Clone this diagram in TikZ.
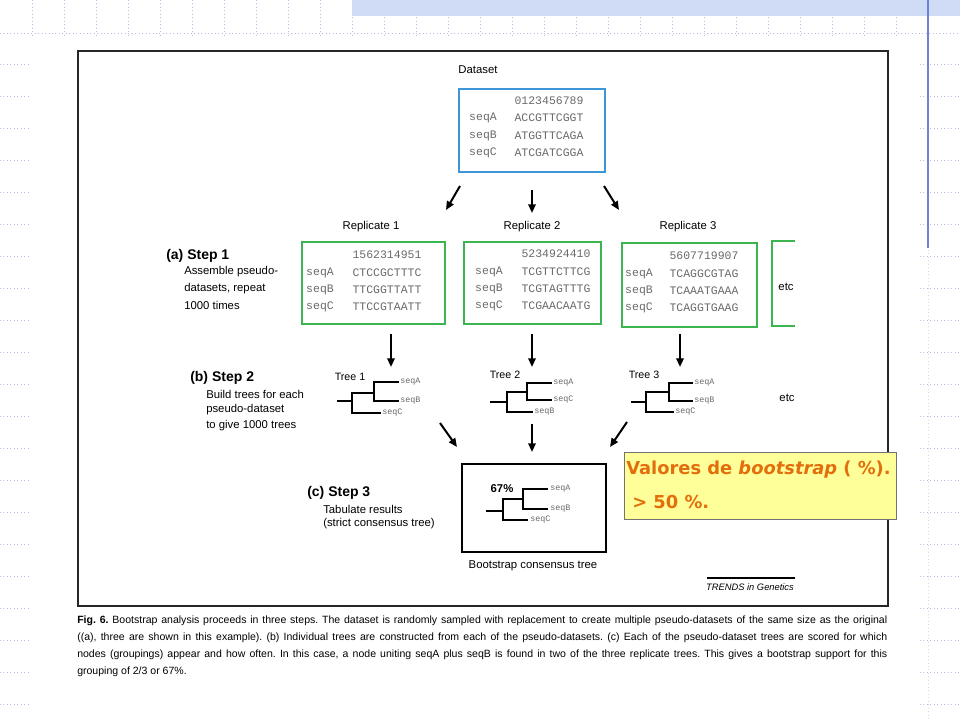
\documentclass[tikz,border=0pt]{standalone}
\usepackage{fontspec}
\setmainfont{Liberation Sans}
\newfontfamily\seqfont{Liberation Mono}
\newfontfamily\notefont{DejaVu Sans}
\usetikzlibrary{arrows.meta,calc}
\definecolor{dsblue}{RGB}{60,150,215}
\definecolor{repgreen}{RGB}{60,180,80}
\definecolor{seqgray}{RGB}{105,105,105}
\definecolor{noteyellow}{RGB}{255,255,153}
\definecolor{noteorange}{RGB}{226,110,12}
\definecolor{gridc}{RGB}{185,190,225}
\definecolor{bandc}{RGB}{208,220,245}
\definecolor{slideblue}{RGB}{110,130,220}
\begin{document}
\frenchspacing
\begin{tikzpicture}[x=0.75pt,y=-0.75pt,
  lbl/.style={inner sep=0, font=\fontsize{8.5}{10}\selectfont},
  steph/.style={inner sep=0, anchor=west, font=\fontsize{10.5}{12}\selectfont\bfseries},
  stept/.style={inner sep=0, anchor=west, font=\fontsize{8.5}{10}\selectfont},
  seqt/.style={inner sep=0, text=seqgray, font=\fontsize{8.6}{10}\seqfont},
  treel/.style={inner sep=0, anchor=west, text=seqgray, font=\fontsize{6.3}{7}\seqfont},
  pxbox/.style 2 args={inner sep=0, anchor=north west, minimum width=#1*0.75pt, minimum height=#2*0.75pt},
  arr/.style={line width=1.5pt, -{Triangle[length=6.5pt,width=5.5pt]}},
  tree/.style={line width=1.4pt, line cap=rect},
  grid/.style={gridc, dotted, line width=0.6pt},
  caption/.style={inner sep=0, anchor=base west, font=\fontsize{7.9}{9}\selectfont},
]
\useasboundingbox (0,0) rectangle (960,720);
% ---- slide decoration ----
\foreach \k in {1,...,28} \draw[grid] (32*\k,0) -- (32*\k,38);
\draw[grid] (0,33) -- (960,33);
\fill[bandc] (352,0) rectangle (960,16);
\foreach \k in {0,...,20} {
  \draw[grid] (0,64+32*\k) -- (30,64+32*\k);
  \draw[grid] (920,64+32*\k) -- (960,64+32*\k);
}
\draw[grid, gridc!60] (928,250) -- (928,720);
\draw[slideblue, line width=0.8pt] (928,0) -- (928,248);
% ---- frame ----
\node[pxbox={810}{555}, draw=black!85, line width=1.5pt] (frame) at (77,50) {};
% ---- dataset ----
\node[lbl] (dstitle) at (478,70) {Dataset};
\node[pxbox={146}{83}, draw=dsblue, line width=1.5pt] (dataset) at (458,88) {};
\node[seqt] (dsn) at (549,101) {0123456789};
\node[seqt] (dsa) at (483,118) {seqA};
\node[seqt] (dsas) at (549,118) {ACCGTTCGGT};
\node[seqt] (dsb) at (483,136) {seqB};
\node[seqt] (dsbs) at (549,136) {ATGGTTCAGA};
\node[seqt] (dsc) at (483,153) {seqC};
\node[seqt] (dscs) at (549,153) {ATCGATCGGA};
% ---- arrows dataset -> replicates ----
\coordinate (a1s) at (460,186); \coordinate (a1e) at (446,210);
\coordinate (a2s) at (532,190); \coordinate (a2e) at (532,213);
\coordinate (a3s) at (604,186); \coordinate (a3e) at (619,210);
\draw[arr] (a1s) -- (a1e);
\draw[arr] (a2s) -- (a2e);
\draw[arr] (a3s) -- (a3e);
% ---- replicate titles ----
\node[lbl] (r1t) at (371,227) {Replicate 1};
\node[lbl] (r2t) at (532,227) {Replicate 2};
\node[lbl] (r3t) at (688,227) {Replicate 3};
% ---- replicate boxes ----
\node[pxbox={143}{82}, draw=repgreen, line width=1.5pt] (rep1) at (301,241) {};
\node[pxbox={137}{82}, draw=repgreen, line width=1.5pt] (rep2) at (463,241) {};
\node[pxbox={135}{84}, draw=repgreen, line width=1.5pt] (rep3) at (621,242) {};
\coordinate (etc1) at (795,241); \coordinate (etc2) at (772,241);
\coordinate (etc3) at (772,326); \coordinate (etc4) at (795,326);
\draw[repgreen, line width=1.5pt] (etc1) -- (etc2) -- (etc3) -- (etc4);
\node[lbl] (etcA) at (786,287) {etc};
% rep1
\node[seqt] (r1n) at (387,255) {1562314951};
\node[seqt] (r1a) at (320,273) {seqA};
\node[seqt] (r1as) at (387,273) {CTCCGCTTTC};
\node[seqt] (r1b) at (320,290) {seqB};
\node[seqt] (r1bs) at (387,290) {TTCGGTTATT};
\node[seqt] (r1c) at (320,307) {seqC};
\node[seqt] (r1cs) at (387,307) {TTCCGTAATT};
% rep2
\node[seqt] (r2n) at (556,254) {5234924410};
\node[seqt] (r2a) at (489,272) {seqA};
\node[seqt] (r2as) at (556,272) {TCGTTCTTCG};
\node[seqt] (r2b) at (489,289) {seqB};
\node[seqt] (r2bs) at (556,289) {TCGTAGTTTG};
\node[seqt] (r2c) at (489,306) {seqC};
\node[seqt] (r2cs) at (556,306) {TCGAACAATG};
% rep3
\node[seqt] (r3n) at (704,256) {5607719907};
\node[seqt] (r3a) at (639,274) {seqA};
\node[seqt] (r3as) at (704,274) {TCAGGCGTAG};
\node[seqt] (r3b) at (639,291) {seqB};
\node[seqt] (r3bs) at (704,291) {TCAAATGAAA};
\node[seqt] (r3c) at (639,308) {seqC};
\node[seqt] (r3cs) at (704,308) {TCAGGTGAAG};
% ---- step 1 text ----
\node[steph] (s1h) at (166,256) {(a) Step 1};
\node[stept] (s1a) at (184,272) {Assemble pseudo-};
\node[stept] (s1b) at (184,289) {datasets, repeat};
\node[stept] (s1c) at (184,305) {1000 times};
% ---- arrows replicates -> trees ----
\coordinate (b1s) at (391,334); \coordinate (b1e) at (391,367);
\coordinate (b2s) at (532,334); \coordinate (b2e) at (532,367);
\coordinate (b3s) at (680,334); \coordinate (b3e) at (680,367);
\draw[arr] (b1s) -- (b1e);
\draw[arr] (b2s) -- (b2e);
\draw[arr] (b3s) -- (b3e);
% ---- step 2 text ----
\node[steph] (s2h) at (190,378) {(b) Step 2};
\node[stept] (s2a) at (206,394) {Build trees for each};
\node[stept] (s2b) at (206,410) {pseudo-dataset};
\node[stept] (s2c) at (206,426) {to give 1000 trees};
% ---- tree 1 ----
\node[lbl, font=\fontsize{8}{9}\selectfont] (t1t) at (350,377) {Tree 1};
\draw[tree] (338,401) -- (352,401);
\draw[tree] (352,393) -- (352,413);
\draw[tree] (352,393) -- (374,393);
\draw[tree] (374,382) -- (374,401);
\draw[tree] (374,382) -- (398,382);
\draw[tree] (374,401) -- (398,401);
\draw[tree] (352,413) -- (380,413);
\node[treel] (t1a) at (400,382) {seqA};
\node[treel] (t1b) at (400,401) {seqB};
\node[treel] (t1c) at (382,413) {seqC};
% ---- tree 2 ----
\node[lbl, font=\fontsize{8}{9}\selectfont] (t2t) at (505,375) {Tree 2};
\draw[tree] (491,402) -- (507,402);
\draw[tree] (507,392) -- (507,412);
\draw[tree] (507,392) -- (527,392);
\draw[tree] (527,383) -- (527,400);
\draw[tree] (527,383) -- (551,383);
\draw[tree] (527,400) -- (551,400);
\draw[tree] (507,412) -- (532,412);
\node[treel] (t2a) at (553,383) {seqA};
\node[treel] (t2c) at (553,400) {seqC};
\node[treel] (t2b) at (534,412) {seqB};
% ---- tree 3 ----
\node[lbl, font=\fontsize{8}{9}\selectfont] (t3t) at (644,375) {Tree 3};
\draw[tree] (632,402) -- (646,402);
\draw[tree] (646,392) -- (646,412);
\draw[tree] (646,392) -- (669,392);
\draw[tree] (669,383) -- (669,401);
\draw[tree] (669,383) -- (692,383);
\draw[tree] (669,401) -- (692,401);
\draw[tree] (646,412) -- (673,412);
\node[treel] (t3a) at (694,383) {seqA};
\node[treel] (t3b) at (694,401) {seqB};
\node[treel] (t3c) at (675,412) {seqC};
\node[lbl] (etcB) at (787,398) {etc};
% ---- arrows trees -> consensus ----
\coordinate (c1s) at (440,423); \coordinate (c1e) at (457,447);
\coordinate (c2s) at (532,424); \coordinate (c2e) at (532,452);
\coordinate (c3s) at (627,422); \coordinate (c3e) at (610,447);
\draw[arr] (c1s) -- (c1e);
\draw[arr] (c2s) -- (c2e);
\draw[arr] (c3s) -- (c3e);
% ---- step 3 ----
\node[steph] (s3h) at (307,493) {(c) Step 3};
\node[stept] (s3a) at (323,509) {Tabulate results};
\node[stept] (s3b) at (323,524) {(strict consensus tree)};
\node[pxbox={144}{88}, draw=black, line width=1.5pt] (cons) at (461,463) {};
\node[inner sep=0, font=\fontsize{8.5}{10}\selectfont\bfseries] (pct) at (502,489) {67\%};
\draw[tree] (487,511) -- (503,511);
\draw[tree] (503,499) -- (503,520);
\draw[tree] (503,499) -- (523,499);
\draw[tree] (523,489) -- (523,509);
\draw[tree] (523,489) -- (547,489);
\draw[tree] (523,509) -- (547,509);
\draw[tree] (503,520) -- (527,520);
\node[treel] (cta) at (550,489) {seqA};
\node[treel] (ctb) at (550,509) {seqB};
\node[treel] (ctc) at (530,520) {seqC};
\node[lbl] (constitle) at (533,566) {Bootstrap consensus tree};
% ---- TRENDS ----
\node[inner sep=0, font=\fontsize{7}{8}\selectfont\itshape] (trends) at (750,587) {TRENDS in Genetics};
\coordinate (trl) at (707,578); \coordinate (trr) at (795,578);
\draw[line width=0.9pt] (trl) -- (trr);
% ---- note ----
\node[pxbox={272}{67}, fill=noteyellow, draw=black!55, line width=0.6pt] (note) at (624,452) {};
\node[inner sep=0, anchor=west, text=noteorange, font=\fontsize{13.4}{15}\notefont\bfseries] (n1) at (626,470) {Valores de \textit{bootstrap} ( \%).};
\node[inner sep=0, anchor=west, text=noteorange, font=\fontsize{13.4}{15}\notefont\bfseries] (n2) at (632,502) {> 50 \%.};
% ---- caption ----
\node[caption] (cap1) at (77,623) {\makebox[607.5pt][s]{\textbf{Fig. 6.} Bootstrap analysis proceeds in three steps. The dataset is randomly sampled with replacement to create multiple pseudo-datasets of the same size as the original}};
\node[caption] (cap2) at (77,640) {\makebox[607.5pt][s]{((a), three are shown in this example). (b) Individual trees are constructed from each of the pseudo-datasets. (c) Each of the pseudo-dataset trees are scored for which}};
\node[caption] (cap3) at (77,657) {\makebox[607.5pt][s]{nodes (groupings) appear and how often. In this case, a node uniting seqA plus seqB is found in two of the three replicate trees. This gives a bootstrap support for this}};
\node[caption] (cap4) at (77,674) {grouping of 2/3 or 67\%.};
\end{tikzpicture}
\end{document}
